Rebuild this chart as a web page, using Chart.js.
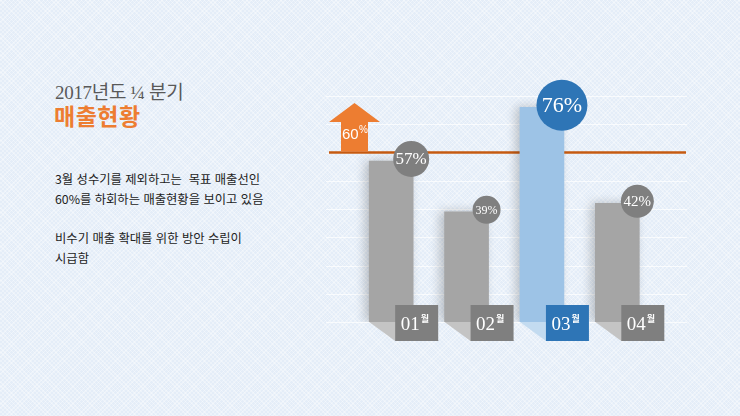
<!DOCTYPE html>
<html lang="ko">
<head>
<meta charset="utf-8">
<script src="https://cdn.jsdelivr.net/npm/chart.js@4.4.1/dist/chart.umd.min.js"></script>
<style>
  html, body { margin: 0; padding: 0; }
  body {
    width: 740px; height: 416px; overflow: hidden; position: relative;
    background-color: #e4edf8;
    background-image:
      repeating-linear-gradient(45deg, rgba(255,255,255,0.35) 0 1px, transparent 1px 3px),
      repeating-linear-gradient(-45deg, rgba(255,255,255,0.35) 0 1px, transparent 1px 3px);
  }
  #wrap { position: absolute; left: 0; top: 0; width: 740px; height: 416px; }
  .sub { position: absolute; left: 55px; top: 77px; font: 19px "Liberation Serif", "Noto Sans CJK KR", serif; color: #595959; letter-spacing: -0.3px; }
  .title { position: absolute; left: 54px; top: 98px; font: bold 23px "Noto Sans CJK KR", sans-serif; color: #ed7d31; letter-spacing: 0.5px; }
  .desc { position: absolute; left: 55px; font: 12.3px "Noto Sans CJK KR", sans-serif; color: #222222; line-height: 20px; white-space: pre; }
</style>
</head>
<body>
<div class="sub">2017년도 ¼ 분기</div>
<div class="title">매출현황</div>
<div class="desc" style="top:169px">3월 성수기를 제외하고는  목표 매출선인
60%를 하회하는 매출현황을 보이고 있음</div>
<div class="desc" style="top:228px">비수기 매출 확대를 위한 방안 수립이
시급함</div>
<div id="wrap"><canvas id="chart" width="740" height="416"></canvas></div>
<script>
// 월별 매출 달성률 (%)
var months = ['01', '02', '03', '04'];
var sales = [57, 39, 76, 42];
var target = 60;
var highlight = [false, false, true, false];

var barColors = sales.map(function (v, i) { return highlight[i] ? '#9dc3e6' : '#a5a5a5'; });
var floorColors = sales.map(function (v, i) { return highlight[i] ? '#c3dbf0' : '#c4c4c4'; });
var tagColors = sales.map(function (v, i) { return highlight[i] ? '#2e75b6' : '#7f7f7f'; });

var gridPlugin = {
  id: 'grid',
  beforeDatasetsDraw: function (chart) {
    var ctx = chart.ctx, y = chart.scales.y;
    ctx.save();
    ctx.strokeStyle = 'rgba(255,255,255,0.7)';
    ctx.lineWidth = 1;
    y.ticks.forEach(function (t) {
      var py = Math.round(y.getPixelForValue(t.value)) + 0.5;
      ctx.beginPath(); ctx.moveTo(326, py); ctx.lineTo(687, py); ctx.stroke();
    });
    // 목표선
    var ty = y.getPixelForValue(target);
    ctx.strokeStyle = '#c55a11';
    ctx.lineWidth = 2.5;
    ctx.beginPath(); ctx.moveTo(329, ty); ctx.lineTo(686, ty); ctx.stroke();
    // floor faces
    var meta = chart.getDatasetMeta(0);
    meta.data.forEach(function (bar, i) {
      var w = bar.width / 2, b = bar.base;
      ctx.fillStyle = floorColors[i];
      ctx.beginPath();
      ctx.moveTo(bar.x - w, b); ctx.lineTo(bar.x + w, b);
      ctx.lineTo(bar.x + w + 26, b + 19); ctx.lineTo(bar.x - w + 26, b + 19);
      ctx.closePath(); ctx.fill();
    });
    ctx.restore();
  },
  beforeDatasetDraw: function (chart) {
    var ctx = chart.ctx;
    ctx.save();
    ctx.shadowColor = 'rgba(0,0,0,0.22)';
    ctx.shadowBlur = 10;
    ctx.shadowOffsetX = -4;
    ctx.shadowOffsetY = 0;
  },
  afterDatasetDraw: function (chart) {
    chart.ctx.restore();
  },
  afterDatasetsDraw: function (chart) {
    var ctx = chart.ctx, y = chart.scales.y;
    var meta = chart.getDatasetMeta(0);
    ctx.save();
    meta.data.forEach(function (bar, i) {
      var b = bar.base, cx = bar.x + 25.5;
      // month tag
      ctx.fillStyle = tagColors[i];
      ctx.fillRect(cx - 21.5, b - 17, 43, 36);
      ctx.fillStyle = '#ffffff';
      ctx.textBaseline = 'alphabetic';
      ctx.textAlign = 'right';
      ctx.font = '19px "Liberation Serif", serif';
      ctx.fillText(months[i], cx + 3, b + 8);
      ctx.textAlign = 'left';
      ctx.font = 'bold 9px "Noto Sans CJK KR", sans-serif';
      ctx.fillText('월', cx + 4, b);
      // value bubble
      var r = sales[i] >= 70 ? 25.5 : sales[i] >= 50 ? 18 : sales[i] >= 40 ? 16.5 : 14;
      var bx = bar.x + bar.width / 2 - 2, by = bar.y - 2;
      ctx.fillStyle = tagColors[i];
      ctx.beginPath(); ctx.arc(bx, by, r, 0, Math.PI * 2); ctx.fill();
      ctx.fillStyle = '#ffffff';
      ctx.textAlign = 'center';
      ctx.textBaseline = 'middle';
      var fs = sales[i] >= 70 ? 22 : sales[i] >= 50 ? 17 : sales[i] >= 40 ? 15 : 12;
      ctx.font = fs + 'px "Liberation Serif", serif';
      ctx.fillText(sales[i] + '%', bx, by + 1);
    });
    // 목표 화살표
    var ty = y.getPixelForValue(target);
    ctx.fillStyle = '#ed7d31';
    ctx.beginPath();
    ctx.moveTo(341, ty - 1); ctx.lineTo(341, 122); ctx.lineTo(329, 122);
    ctx.lineTo(354.5, 103); ctx.lineTo(380, 122); ctx.lineTo(368, 122);
    ctx.lineTo(368, ty - 1); ctx.closePath(); ctx.fill();
    ctx.fillStyle = '#ffffff';
    ctx.textAlign = 'left';
    ctx.textBaseline = 'alphabetic';
    ctx.font = '15px "Liberation Sans", sans-serif';
    ctx.fillText(target, 342, 139);
    ctx.font = '10px "Liberation Sans", sans-serif';
    ctx.fillText('%', 359, 133);
    ctx.restore();
  }
};

new Chart(document.getElementById('chart'), {
  type: 'bar',
  data: {
    labels: months,
    datasets: [{
      data: sales,
      backgroundColor: barColors,
      borderWidth: 0,
      barThickness: 44
    }]
  },
  options: {
    responsive: false,
    animation: false,
    layout: { padding: { left: 353.5, right: 85, top: 96, bottom: 94 } },
    plugins: { legend: { display: false }, tooltip: { enabled: false } },
    scales: {
      x: { display: false },
      y: { display: false, min: 0, max: 80, ticks: { stepSize: 10 } }
    }
  },
  plugins: [gridPlugin]
});
</script>
</body>
</html>
